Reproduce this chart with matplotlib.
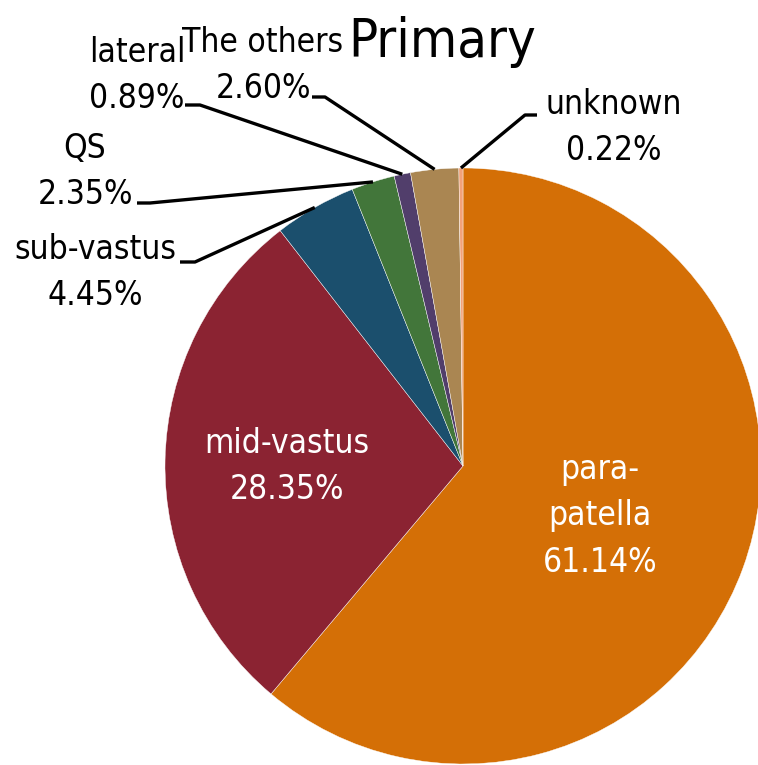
import numpy as np
import matplotlib
matplotlib.use("Agg")
import matplotlib.pyplot as plt

# data
labels = ["para-\npatella", "mid-vastus", "sub-vastus", "QS", "lateral", "The others", "unknown"]
values = [61.14, 28.35, 4.45, 2.35, 0.89, 2.60, 0.22]
colors = ["#D46F06", "#8B2332", "#1B4F6D", "#42763A", "#513E6B", "#AA8652", "#F2A27A"]

plt.rcParams['font.family'] = ['DejaVu Sans']
plt.rcParams['font.stretch'] = 'condensed'

W, H = 758, 765
fig = plt.figure(figsize=(W / 100, H / 100), dpi=100)
ax = fig.add_axes([0, 0, 1, 1])

cx, cy, r = 463, H - 466, 298
wedges, _ = ax.pie(values, colors=colors, startangle=90, counterclock=False,
                   center=(cx, cy), radius=r, frame=True,
                   wedgeprops=dict(edgecolor='white', linewidth=0.3))
ax.set_xlim(0, W)
ax.set_ylim(0, H)
ax.set_aspect('equal')
ax.axis('off')

def pct(v):
    return "{:.2f}%".format(v)

fs = 24
ls = 1.5
# inside labels (image coords of text centre)
inside = {0: (600, 516), 1: (287, 466)}
for i, (x, y) in inside.items():
    ax.text(x, H - y, labels[i] + "\n" + pct(values[i]), color='white', fontsize=fs,
            ha='center', va='center', linespacing=ls)

# outside labels: text centre, elbow start, elbow end (image coords)
outside = {
    2: ((95, 272), (180, 262), (195, 262)),
    3: ((85, 171), (137, 203), (150, 203)),
    4: ((137, 75), (185, 105), (200, 105)),
    5: ((263, 65), (312, 97), (325, 97)),
    6: ((614, 127), (537, 115), (525, 115)),
}
for i, (tpos, p0, p1) in outside.items():
    ax.text(tpos[0], H - tpos[1], labels[i] + "\n" + pct(values[i]), color='black',
            fontsize=fs, ha='center', va='center', linespacing=ls)
    w = wedges[i]
    mid = np.deg2rad((w.theta1 + w.theta2) / 2)
    ex, ey = cx + r * np.cos(mid), cy + r * np.sin(mid)
    ax.plot([p0[0], p1[0], ex], [H - p0[1], H - p1[1], ey], color='black', lw=2.4,
            solid_capstyle='butt')

ax.text(442, H - 42, "Primary", fontsize=39, ha='center', va='center', color='black')

fig.savefig("out.png", dpi=100)
